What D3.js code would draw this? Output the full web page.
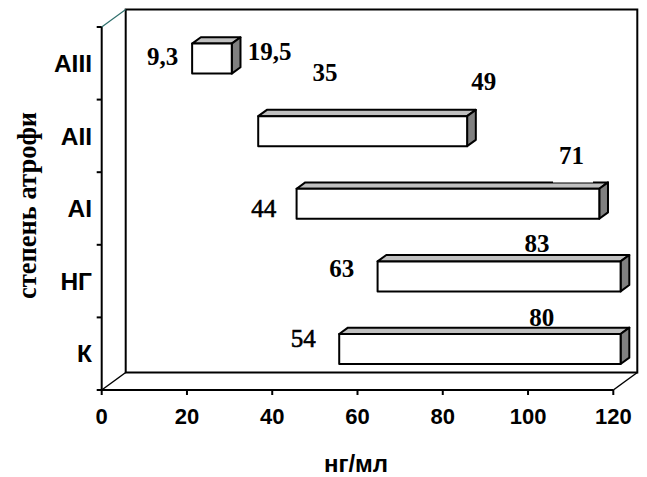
<!DOCTYPE html>
<html>
<head>
<meta charset="utf-8">
<script src="https://cdn.jsdelivr.net/npm/d3@7/dist/d3.min.js"></script>
<style>
  html, body { margin: 0; padding: 0; background: #fff; }
  svg { display: block; }
</style>
</head>
<body>
<svg id="chart" width="647" height="477"></svg>
<script>
// Categories, listed from the top row down
const categories = ["АIII", "АII", "АI", "НГ", "К"];
// Where each range begins (ng/ml) and how long it runs
const startValues = [19.5, 35, 44, 63, 54];
const spanValues = [9.3, 49, 71, 83, 80];
// Value axis ticks and titles
const xTicks = [0, 20, 40, 60, 80, 100, 120];
const xTitle = "нг/мл";
const yTitle = "степень атрофи";

// Label placement: category, which value it shows, x on the value axis,
// baseline offset from the row centre, bold?, white backing?
const labelLayout = [
  ["АIII", "span", 14.3, 1.7, true, false],
  ["АIII", "start", 39.4, -3.3, true, false],
  ["АII", "start", 52.4, -55.2, true, false],
  ["АII", "span", 89.6, -45.9, true, false],
  ["АI", "start", 38.0, 8.2, false, false],
  ["АI", "span", 110.2, -44.5, true, true],
  ["НГ", "start", 56.3, -4.4, true, false],
  ["НГ", "span", 102.1, -29.4, true, false],
  ["К", "start", 47.3, -7.0, false, false],
  ["К", "span", 103.2, -27.7, true, false]
];

const svg = d3.select("#chart");
const sans = "'Liberation Sans', Arial, sans-serif";
const serif = "'Liberation Serif', 'Times New Roman', serif";

const x = d3.scaleLinear().domain([0, 120]).range([101.7, 613.3]);
const y = d3.scaleBand().domain(categories).range([27, 390]).paddingInner(0).paddingOuter(0);

// 3-D depth of the plot box, and where bars sit inside that depth
const depth = [24, -17.5];
const f0 = 0.304, f1 = 0.667;
const barHeight = 30;

const [X0, X1] = x.range();
const [Y0, Y1] = y.range();
const dx = depth[0], dy = depth[1];

const frame = svg.append("g").attr("fill", "none").attr("stroke", "#000").attr("stroke-width", 2);

// back wall
frame.append("rect")
  .attr("x", X0 + dx).attr("y", Y0 + dy)
  .attr("width", X1 - X0).attr("height", Y1 - Y0);

// floor edges
frame.append("line").attr("x1", X0).attr("y1", Y1).attr("x2", X1).attr("y2", Y1);
frame.append("line").attr("x1", X0).attr("y1", Y1).attr("x2", X0 + dx).attr("y2", Y1 + dy).attr("stroke-width", 1.5);
frame.append("line").attr("x1", X1).attr("y1", Y1).attr("x2", X1 + dx).attr("y2", Y1 + dy).attr("stroke-width", 1.5);

// category axis and top edge of side wall
frame.append("line").attr("x1", X0).attr("y1", Y0).attr("x2", X0).attr("y2", Y1);
frame.append("line").attr("x1", X0).attr("y1", Y0).attr("x2", X0 + dx).attr("y2", Y0 + dy)
  .attr("stroke", "#2f6f6c").attr("stroke-width", 1.2);

// category tick marks at row boundaries
const bounds = categories.map(c => y(c)).concat([Y1]);
frame.selectAll(".ytick").data(bounds).join("line")
  .attr("x1", X0 - 5).attr("x2", X0)
  .attr("y1", d => d).attr("y2", d => d);

// value ticks
frame.selectAll(".xtick").data(xTicks).join("line")
  .attr("x1", d => x(d)).attr("x2", d => x(d))
  .attr("y1", Y1).attr("y2", Y1 + 5);

svg.append("g").selectAll("text").data(xTicks).join("text")
  .attr("x", d => x(d)).attr("y", 424.3)
  .attr("text-anchor", "middle")
  .attr("font-family", sans).attr("font-weight", "bold").attr("font-size", 22)
  .text(d => d);

svg.append("g").selectAll("text").data(categories).join("text")
  .attr("x", 92).attr("y", d => y(d) + y.bandwidth() / 2 + 8.6)
  .attr("text-anchor", "end")
  .attr("font-family", sans).attr("font-weight", "bold").attr("font-size", 24.5)
  .text(d => d);

svg.append("text")
  .attr("x", (X0 + X1) / 2 - 1.5).attr("y", 471.7)
  .attr("text-anchor", "middle")
  .attr("font-family", sans).attr("font-weight", "bold").attr("font-size", 24)
  .text(xTitle);

svg.append("text")
  .attr("transform", "translate(35.5,205.5) rotate(-90)")
  .attr("text-anchor", "middle")
  .attr("font-family", serif).attr("font-weight", "bold").attr("font-size", 26.5)
  .text(yTitle);

// 3-D bars
const rows = categories.map((c, i) => ({
  cat: c, start: startValues[i], span: spanValues[i],
  end: Math.min(startValues[i] + spanValues[i], x.domain()[1])
}));
const bdx = dx * (f1 - f0), bdy = dy * (f1 - f0);
const bars = svg.append("g").attr("stroke", "#000").attr("stroke-width", 2).attr("stroke-linejoin", "round");
rows.forEach(r => {
  const xa = x(r.start) + dx * f0;
  const xb = x(r.end) + dx * f0;
  const yc = y(r.cat) + y.bandwidth() / 2 + dy * f0 + 0.6;
  const yt = yc - barHeight / 2, yb = yc + barHeight / 2;
  const g = bars.append("g");
  g.append("polygon")
    .attr("points", [[xa, yt], [xb, yt], [xb + bdx, yt + bdy], [xa + bdx, yt + bdy]].join(" "))
    .attr("fill", "#c0c0c0");
  g.append("polygon")
    .attr("points", [[xb, yt], [xb + bdx, yt + bdy], [xb + bdx, yb + bdy], [xb, yb]].join(" "))
    .attr("fill", "#808080");
  g.append("rect")
    .attr("x", xa).attr("y", yt).attr("width", xb - xa).attr("height", yb - yt)
    .attr("fill", "#fff");
});

// value labels
const fmt = v => String(v).replace(".", ",");
const labels = svg.append("g");
labelLayout.forEach(([cat, field, lx, ldy, bold, boxed]) => {
  const r = rows.find(d => d.cat === cat);
  const px = x(lx);
  const py = y(cat) + y.bandwidth() / 2 + ldy;
  if (boxed) {
    labels.append("rect")
      .attr("x", px - 18.5).attr("y", py - 24)
      .attr("width", 40).attr("height", 42.5)
      .attr("fill", "#fff");
  }
  const t = labels.append("text")
    .attr("x", px).attr("y", py)
    .attr("text-anchor", "middle")
    .attr("font-family", serif)
    .attr("font-weight", bold ? "bold" : "normal")
    .attr("font-size", 25)
    .text(fmt(r[field]));
  // the lighter labels are set a touch heavier than plain regular
  if (!bold) t.attr("stroke", "#000").attr("stroke-width", 0.6);
});
</script>
</body>
</html>
